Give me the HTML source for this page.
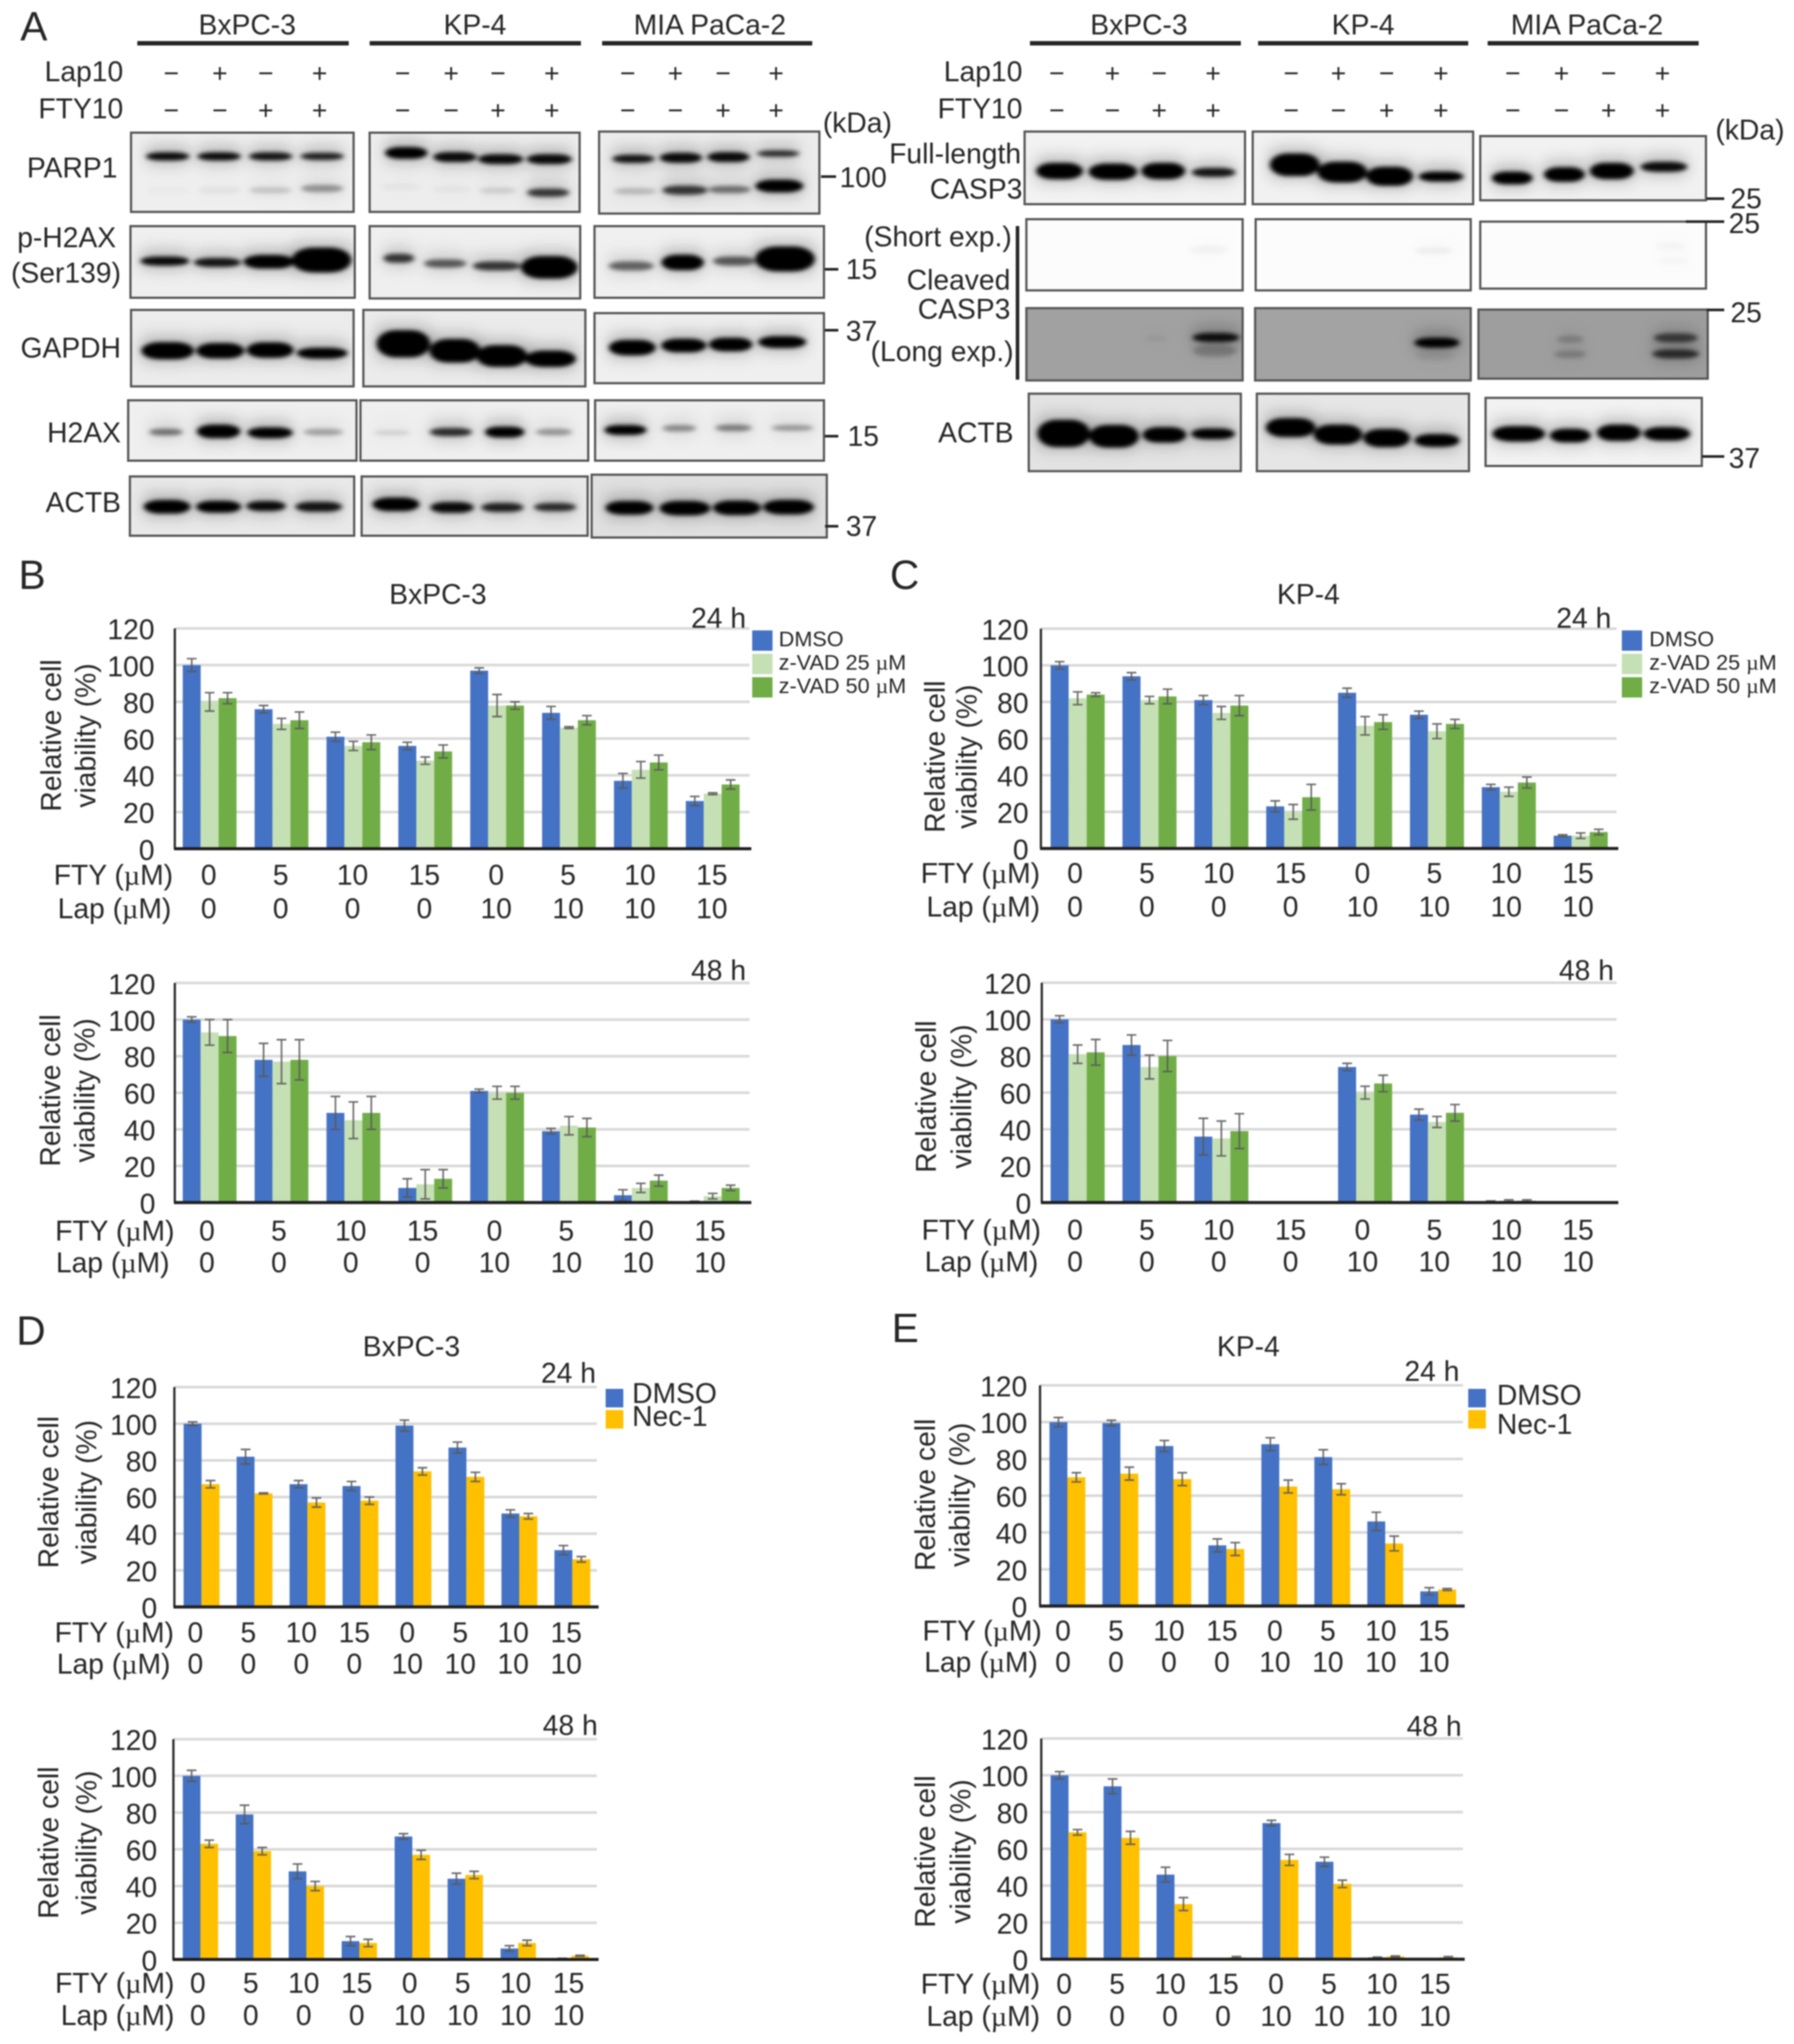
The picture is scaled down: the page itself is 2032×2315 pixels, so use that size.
<!DOCTYPE html>
<html lang="en">
<head>
<meta charset="utf-8">
<title>Western blots and cell viability charts</title>
<style>
html,body{margin:0;padding:0;background:#fff;width:2032px;height:2315px;overflow:hidden}
svg{display:block;filter:blur(.7px)}
text{font-family:"Liberation Sans",Arial,sans-serif;font-size:32px;fill:#262626}
.e{text-anchor:end}.m{text-anchor:middle}.p{font-size:46px}.k{font-size:32px}
.u{font-family:"Liberation Serif",serif}
</style>
</head>
<body>
<svg id="figure" xmlns="http://www.w3.org/2000/svg" width="2032" height="2315" viewBox="0 0 2032 2315">
<defs>
<filter id="bandBlur" x="-25%" y="-60%" width="150%" height="220%"><feGaussianBlur stdDeviation="4.5 6"/></filter>
<filter id="haloBlur" x="-30%" y="-60%" width="160%" height="220%"><feGaussianBlur stdDeviation="12 22"/></filter>
</defs>
<rect width="2032" height="2315" fill="#fff"/>
<g id="blotsLeft" transform="scale(0.6481 0.3953)"></g>
<g id="blotsRight" transform="translate(980 0) scale(0.6711 0.3953)"></g>
<g id="blotLines" stroke="#262626" fill="none">
<path d="M155.5 49H395" stroke-width="5"/>
<path d="M418.7 49H658" stroke-width="5"/>
<path d="M682 49H920" stroke-width="5"/>
<path d="M1166.6 49H1405.5" stroke-width="5"/>
<path d="M1425 49H1663" stroke-width="5"/>
<path d="M1685 49H1924" stroke-width="5"/>
<path d="M1152.5 256V430" stroke-width="4"/>
<path d="M930 200H947" stroke-width="3"/>
<path d="M934.5 305H949.5" stroke-width="3"/>
<path d="M934.5 374H949.5" stroke-width="3"/>
<path d="M934.5 494H949.5" stroke-width="3"/>
<path d="M934.5 596H949.5" stroke-width="3"/>
<path d="M1933 225H1953" stroke-width="3"/>
<path d="M1909.5 251H1953" stroke-width="3"/>
<path d="M1933 351H1953" stroke-width="3"/>
<path d="M1928 517H1953" stroke-width="3"/>
</g>
<g id="blotText">
<text class="p" x="23" y="46">A</text>
<text class="m" x="280" y="39">BxPC-3</text>
<text class="m" x="538" y="39">KP-4</text>
<text class="m" x="804" y="39">MIA PaCa-2</text>
<text class="m" x="1290" y="39">BxPC-3</text>
<text class="m" x="1544" y="39">KP-4</text>
<text class="m" x="1797.5" y="39">MIA PaCa-2</text>
<text class="e" x="139.5" y="92">Lap10</text>
<text class="e" x="139.5" y="134">FTY10</text>
<text class="e" x="1158" y="92">Lap10</text>
<text class="e" x="1158" y="134">FTY10</text>
<text x="932" y="150">(kDa)</text>
<text x="1943" y="158">(kDa)</text>
<text class="e" x="133" y="201">PARP1</text>
<text class="e" x="131.5" y="280">p-H2AX</text>
<text class="e" x="137" y="320">(Ser139)</text>
<text class="e" x="137" y="405">GAPDH</text>
<text class="e" x="137" y="501">H2AX</text>
<text class="e" x="137" y="580">ACTB</text>
<text x="951" y="212">100</text>
<text x="958" y="316">15</text>
<text x="958" y="386">37</text>
<text x="960" y="505">15</text>
<text x="958" y="607">37</text>
<text class="e" x="1156.5" y="185">Full-length</text>
<text class="e" x="1158" y="225">CASP3</text>
<text class="e" x="1146" y="279">(Short exp.)</text>
<text class="e" x="1144.4" y="328">Cleaved</text>
<text class="e" x="1144.4" y="361">CASP3</text>
<text class="e" x="1148" y="409">(Long exp.)</text>
<text class="e" x="1148" y="501">ACTB</text>
<text x="1960" y="236">25</text>
<text x="1958" y="264">25</text>
<text x="1960" y="365">25</text>
<text x="1958" y="530">37</text>
<text class="p" x="21" y="667">B</text>
<text class="p" x="1008" y="667">C</text>
<text class="p" x="18.5" y="1523">D</text>
<text class="p" x="1010" y="1520">E</text>
<text class="m" x="496" y="684">BxPC-3</text>
<text class="m" x="1482" y="684">KP-4</text>
<text class="m" x="466" y="1536">BxPC-3</text>
<text class="m" x="1414" y="1536">KP-4</text>
</g>
<g id="charts"></g>
</svg>
<script>
/* Shared chart categories */
const ftyLabels = ['0','5','10','15','0','5','10','15'];
const lapLabels = ['0','0','0','0','10','10','10','10'];
const yTickLabels = [0,20,40,60,80,100,120];

/* Panel B: BxPC-3, z-VAD */
const b24Dmso = [100,76,61,56,97,74,37,26];
const b24Dmso_err = [3.5,2,2.5,2,1.5,3.5,4,2.5];
const b24Z25 = [80,68,56,48,78,66,43,30];
const b24Z25_err = [5,3,2.5,2,6,0.5,4.5,0.5];
const b24Z50 = [82,70,58,53,78,70,47,35];
const b24Z50_err = [3,4.5,4,3.5,2,2.5,4,2.5];
const b48Dmso = [100,78,49,8,61,39,4,0.5];
const b48Dmso_err = [1.5,9,9,5,1,1.5,3,0.3];
const b48Z25 = [93,77,45,10,60,42,8,3.5];
const b48Z25_err = [7,12,10,8,3.5,5,2.5,1.5];
const b48Z50 = [91,78,49,13,60,41,12,8];
const b48Z50_err = [9,11,9,5,3.5,5,3,1.5];

/* Panel C: KP-4, z-VAD */
const c24Dmso = [100,94,81,23,85,73,33.5,7];
const c24Dmso_err = [2,2,2.5,3,2.5,2,1.5,0.5];
const c24Z25 = [82,81,74,20,67,64,31,7];
const c24Z25_err = [3.5,2,3.5,4,5,4,2.5,1.5];
const c24Z50 = [84,83,78,28,69,68,36,9];
const c24Z50_err = [1,4,5.5,7,4,2.5,3,1.5];
const c48Dmso = [100,86,36,0,74,48,0.7,0];
const c48Dmso_err = [2,5.5,10,0,2,3,0.2,0];
const c48Z25 = [81,74,35,0,60,44,1,0];
const c48Z25_err = [5,6.5,9.5,0,3.5,3,0.5,0];
const c48Z50 = [82,80,39,0,65,49,1,0];
const c48Z50_err = [7,8.5,9.5,0,4.5,4.5,0.5,0];

/* Panel D: BxPC-3, Nec-1 */
const d24Dmso = [100,82,67,66,99,87,51,31];
const d24Dmso_err = [1,4,2,2.5,3,3,2,2.5];
const d24Nec = [67,62,57,58,74,71,49.5,26];
const d24Nec_err = [2,0.3,2.5,2,2,2.5,1.5,1.5];
const d48Dmso = [100,79,48,10,67,44,6,0.5];
const d48Dmso_err = [3,5,4,2.5,1.5,3,1.5,0.2];
const d48Nec = [63,59,40,9,57,46,9,2];
const d48Nec_err = [2,2,2.5,2,2.5,2,1.5,0.3];

/* Panel E: KP-4, Nec-1 */
const e24Dmso = [100,99.5,87,33,88,81,46,8];
const e24Dmso_err = [2.5,1.5,3,3.5,3.5,4,5,2];
const e24Nec = [70,72,69,31,65,63.5,34,9];
const e24Nec_err = [2.5,3.5,3.5,3.5,3.5,3,4,0.5];
const e48Dmso = [100,94,46,0,74,53,1,0];
const e48Dmso_err = [2,4,4,0,1.5,2.5,0.2,0];
const e48Nec = [69,66,30,1,54,41,1.5,1];
const e48Nec_err = [1.5,3.5,3.5,0.5,3,2,0.3,0.5];

const NS = 'http://www.w3.org/2000/svg';
const BLUE = '#4472c4', LIGHT = '#c5e0b4', GREEN = '#70ad47', GOLD = '#ffc000';

function mk(tag, parent, attrs, txt) {
  const el = document.createElementNS(NS, tag);
  for (const k in attrs) el.setAttribute(k, attrs[k]);
  if (txt !== undefined) el.textContent = txt;
  parent.appendChild(el);
  return el;
}
function withMicro(el, before, after) {
  el.textContent = before;
  const t = document.createElementNS(NS, 'tspan');
  t.setAttribute('class', 'u');
  t.textContent = '\u00b5';
  el.appendChild(t);
  el.appendChild(document.createTextNode(after));
}

const zVadSeries = (a, ae, b, be, c, ce) => [
  {name: 'dmso', color: BLUE, v: a, e: ae},
  {name: 'zvad25', color: LIGHT, v: b, e: be},
  {name: 'zvad50', color: GREEN, v: c, e: ce}
];
const necSeries = (a, ae, b, be) => [
  {name: 'dmso', color: BLUE, v: a, e: ae},
  {name: 'nec1', color: GOLD, v: b, e: be}
];

const chartConfigs = [
  {id:'b-24h', time:'24 h', timeX:845, timeY:711, axisX:198, right:849, y120:711.7, y0:961.3, x0:207, barW:20.3, pitch:81.4, tickR:175, relX:69, viaX:108, labelY:833, ftyY:1002, lapY:1040, ftyR:196, lapR:194, lblDx:-1, series:zVadSeries(b24Dmso,b24Dmso_err,b24Z25,b24Z25_err,b24Z50,b24Z50_err)},
  {id:'b-48h', time:'48 h', timeX:845, timeY:1110, axisX:198, right:849, y120:1113.3, y0:1362, x0:207, barW:20.3, pitch:81.4, tickR:176, relX:68, viaX:107, labelY:1235, ftyY:1405, lapY:1441, ftyR:197.6, lapR:192, lblDx:-3, series:zVadSeries(b48Dmso,b48Dmso_err,b48Z25,b48Z25_err,b48Z50,b48Z50_err)},
  {id:'c-24h', time:'24 h', timeX:1825, timeY:711, axisX:1179, right:1831, y120:712, y0:961, x0:1190, barW:20.4, pitch:81.4, tickR:1165, relX:1070, viaX:1106, labelY:857, ftyY:1000, lapY:1038, ftyR:1178, lapR:1178, lblDx:-3, series:zVadSeries(c24Dmso,c24Dmso_err,c24Z25,c24Z25_err,c24Z50,c24Z50_err)},
  {id:'c-48h', time:'48 h', timeX:1828, timeY:1110, axisX:1180, right:1831, y120:1113, y0:1362, x0:1190, barW:20.4, pitch:81.4, tickR:1168, relX:1060, viaX:1100, labelY:1242, ftyY:1404, lapY:1440, ftyR:1179, lapR:1176, lblDx:-3, series:zVadSeries(c48Dmso,c48Dmso_err,c48Z25,c48Z25_err,c48Z50,c48Z50_err)},
  {id:'d-24h', time:'24 h', timeX:675, timeY:1566, axisX:197.5, right:676, y120:1571, y0:1820, x0:208, barW:20.3, pitch:60, tickR:178, relX:66, viaX:109, labelY:1690, ftyY:1860, lapY:1895.5, ftyR:197, lapR:193, lblDx:-7, series:necSeries(d24Dmso,d24Dmso_err,d24Nec,d24Nec_err)},
  {id:'d-48h', time:'48 h', timeX:677, timeY:1965, axisX:196.4, right:676, y120:1969.7, y0:2219.3, x0:207, barW:20, pitch:60, tickR:178, relX:66, viaX:109, labelY:2087, ftyY:2257, lapY:2293.5, ftyR:197.5, lapR:197.5, lblDx:-3, series:necSeries(d48Dmso,d48Dmso_err,d48Nec,d48Nec_err)},
  {id:'e-24h', time:'24 h', timeX:1653, timeY:1564, axisX:1178, right:1657, y120:1569, y0:1819, x0:1188.7, barW:20.3, pitch:60, tickR:1163.5, relX:1059, viaX:1098, labelY:1693, ftyY:1858, lapY:1893.5, ftyR:1180, lapR:1175.5, lblDx:-5, series:necSeries(e24Dmso,e24Dmso_err,e24Nec,e24Nec_err)},
  {id:'e-48h', time:'48 h', timeX:1655.5, timeY:1966, axisX:1179.4, right:1657, y120:1969, y0:2219, x0:1190, barW:20.3, pitch:60, tickR:1164.5, relX:1059, viaX:1099, labelY:2097, ftyY:2258, lapY:2294.5, ftyR:1178, lapR:1178, lblDx:-5, series:necSeries(e48Dmso,e48Dmso_err,e48Nec,e48Nec_err)}
];

function drawChart(c) {
  const root = document.getElementById('charts');
  const g = mk('g', root, {});
  
  
  const yScale = v => c.y0 - (v / 120) * (c.y0 - c.y120);
  const groupX = i => c.x0 + i * c.pitch;
  const barX = (i, s) => groupX(i) + s * c.barW;
  const groupCenter = i => groupX(i) + c.series.length * c.barW / 2;

  yTickLabels.forEach(t => {
    if (t > 0) {
      const gl = mk('line', g, {x1: c.axisX, x2: c.right, y1: yScale(t), y2: yScale(t), stroke: '#d9d9d9', 'stroke-width': 3});
      
      
    }
    const tl = mk('text', g, {x: c.tickR, y: yScale(t) + 12.5, 'class': 'e k'}, String(t));
    
    
  });

  c.series.forEach((s, si) => {
    s.v.forEach((val, i) => {
      if (val <= 0) return;
      const r = mk('rect', g, {x: barX(i, si), y: yScale(val), width: c.barW, height: c.y0 - yScale(val), fill: s.color});
      
      
    });
  });
  c.series.forEach((s, si) => {
    s.v.forEach((val, i) => {
      if (val <= 0) return;
      const cx = barX(i, si) + c.barW / 2;
      const top = yScale(val + s.e[i]);
      const bot = yScale(val - s.e[i]);
      const d = 'M' + cx + ' ' + top + 'V' + bot + 'M' + (cx - 5.5) + ' ' + top + 'H' + (cx + 5.5) + 'M' + (cx - 5.5) + ' ' + bot + 'H' + (cx + 5.5);
      const w = mk('path', g, {d: d, stroke: '#595959', 'stroke-width': 1.8, fill: 'none', 'stroke-opacity': .9});
      
      
    });
  });

  const ax = mk('line', g, {x1: c.axisX, x2: c.axisX, y1: c.y120, y2: c.y0, stroke: '#262626', 'stroke-width': 2.5});
  
  
  const bx = mk('line', g, {x1: c.axisX - 1, x2: c.right + 2, y1: c.y0, y2: c.y0, stroke: '#1f1f1f', 'stroke-width': 3.5});
  
  

  const time = mk('text', g, {x: c.timeX, y: c.timeY, 'class': 'e'}, c.time);
  
  

  const rel = mk('text', g, {x: c.relX, y: c.labelY, 'class': 'm', transform: 'rotate(-90 ' + c.relX + ' ' + c.labelY + ')'}, 'Relative cell');
  
  
  const via = mk('text', g, {x: c.viaX, y: c.labelY, 'class': 'm', transform: 'rotate(-90 ' + c.viaX + ' ' + c.labelY + ')'}, 'viability (%)');
  
  

  const fl = mk('text', g, {x: c.ftyR, y: c.ftyY, 'class': 'e'});
  withMicro(fl, 'FTY (', 'M)');
  
  
  const ll = mk('text', g, {x: c.lapR, y: c.lapY, 'class': 'e'});
  withMicro(ll, 'Lap (', 'M)');
  
  

  ftyLabels.forEach((t, i) => {
    const el = mk('text', g, {x: groupCenter(i) + c.lblDx, y: c.ftyY, 'class': 'm'}, t);
    
    
  });
  lapLabels.forEach((t, i) => {
    const el = mk('text', g, {x: groupCenter(i) + c.lblDx, y: c.lapY, 'class': 'm'}, t);
    
    
  });
}
chartConfigs.forEach(drawChart);

/* Legends */
const legendZ = ['DMSO', 'z-VAD 25 ', 'z-VAD 50 '];
const legendZColors = [BLUE, LIGHT, GREEN];
const legendN = ['DMSO', 'Nec-1'];
const legendNColors = [BLUE, GOLD];
function drawLegendZ(x, textX) {
  const g = mk('g', document.getElementById('charts'), {});
  
  
  legendZ.forEach((t, i) => {
    const top = 714 + i * 26.5;
    const sw = mk('rect', g, {x: x, y: top, width: 23, height: 23, fill: legendZColors[i]});
    
    
    const tx = mk('text', g, {x: textX, y: top + 18, style: 'font-size:24.5px'}, t);
    if (i > 0) withMicro(tx, t, 'M');
    
    
  });
}
function drawLegendN(x, textX, y1, y2) {
  const g = mk('g', document.getElementById('charts'), {});
  
  
  legendN.forEach((t, i) => {
    const top = 1573 + i * 24;
    const sw = mk('rect', g, {x: x, y: top, width: 20, height: 21, fill: legendNColors[i]});
    
    
    const tx = mk('text', g, {x: textX, y: i ? y2 : y1}, t);
    
    
  });
}
drawLegendZ(852, 882);
drawLegendZ(1837, 1868);
drawLegendN(686, 716, 1589, 1615);
drawLegendN(1663, 1695.5, 1591, 1624);

/* Treatment sign rows */
const lapSigns = ['\u2212','+','\u2212','+'];
const ftySigns = ['\u2212','\u2212','+','+'];
const signColumns = [194,249,301,362,456,511,564,625,711,765,819,879,1197,1260,1313,1374,1462.5,1516,1570.6,1632,1713.5,1768.6,1822,1883];
signColumns.forEach((x, i) => {
  const a = mk('text', document.getElementById('blotText'), {x: x, y: 93, 'class': 'm', style: 'font-size:30px'}, lapSigns[i % 4]);
  
  
  const b = mk('text', document.getElementById('blotText'), {x: x, y: 135, 'class': 'm', style: 'font-size:30px'}, ftySigns[i % 4]);
  
  
});

/* Blot panels: x1,y1,x2,y2,background, then bands [cx,cy,w,h,alpha] */
const blotsLeft = [
 ['parp1-bxpc3',229,380,618,607,'#efefef',[[293,448,72,18,.95],[383,448,72,18,.95],[473,448,72,18,.9],[563,448,72,16,.85],[293,545,70,14,.02],[383,545,70,14,.05],[473,545,70,14,.16],[563,540,70,16,.36]]],
 ['parp1-kp4',646,380,1013,607,'#ededed',[[710,438,70,26,1],[795,450,72,22,.95],[875,456,75,22,.95],[960,456,75,22,.95],[700,535,60,14,.04],[790,542,60,14,.04],[870,546,60,14,.12],[958,552,70,18,.75]]],
 ['parp1-mia',1047,377,1432,612,'#ececec',[[1107,455,70,18,.9],[1190,452,70,22,.95],[1273,450,70,22,.95],[1360,440,70,14,.8],[1110,548,70,14,.2],[1197,545,75,20,.75],[1275,543,70,16,.5],[1362,533,80,28,1]]],
 ['ph2ax-bxpc3',228,648,620,853,'#efefef',[[288,748,82,20,.95],[380,752,78,20,.9],[470,750,85,30,1],[562,745,100,55,1]]],
 ['ph2ax-kp4',646,648,1014,855,'#efefef',[[697,740,50,20,.75],[778,755,70,18,.6],[868,762,80,20,.75],[960,766,95,50,1]]],
 ['ph2ax-mia',1039,648,1440,853,'#f0f0f0',[[1103,762,75,20,.55],[1193,752,70,34,1],[1283,748,70,20,.6],[1372,742,100,55,1]]],
 ['gapdh-bxpc3',229,888,618,1107,'#ececec',[[293,1005,88,38,1],[385,1005,80,34,1],[472,1003,78,34,1],[563,1012,85,24,1]]],
 ['gapdh-kp4',635,888,1023,1107,'#ebebeb',[[705,985,90,60,1],[795,1005,85,52,1],[877,1020,85,48,1],[962,1028,85,36,1]]],
 ['gapdh-mia',1039,897,1440,1098,'#efefef',[[1105,996,78,34,1],[1195,990,75,30,1],[1277,987,72,30,1],[1367,980,80,26,1]]],
 ['h2ax-bxpc3',224,1147,623,1320,'#efefef',[[290,1238,55,14,.5],[382,1236,72,30,1],[472,1240,75,24,1],[565,1238,65,14,.3]]],
 ['h2ax-kp4',630,1147,1028,1320,'#efefef',[[685,1240,60,10,.12],[788,1238,70,18,.8],[882,1238,65,24,1],[968,1238,60,14,.35]]],
 ['h2ax-mia',1040,1147,1440,1320,'#efefef',[[1093,1232,70,22,1],[1187,1227,55,14,.4],[1282,1226,60,14,.45],[1385,1226,70,12,.35]]],
 ['actb-bxpc3',227,1365,619,1535,'#e9e9e9',[[292,1452,78,30,1],[382,1452,75,26,1],[465,1450,65,22,.95],[557,1452,78,22,.9]]],
 ['actb-kp4',632,1365,1027,1535,'#e9e9e9',[[692,1445,78,30,1],[790,1454,72,24,.95],[878,1454,70,20,.85],[970,1453,70,18,.8]]],
 ['actb-mia',1034,1360,1445,1540,'#e0e0e0',[[1100,1455,80,30,1],[1197,1456,85,32,1],[1288,1455,80,32,1],[1378,1453,85,32,1]]]
];
const blotsRight = [
 ['casp3-full-bxpc3',269,377,641,585,'#f2f2f2',[[328,490,75,36,1],[418,492,78,36,1],[503,490,70,36,1],[588,494,70,20,.9]]],
 ['casp3-full-kp4',654,377,1026,585,'#f1f1f1',[[725,472,80,50,1],[805,493,80,46,1],[885,505,75,42,1],[972,506,72,22,1]]],
 ['casp3-full-mia',1038,390,1419,574,'#f1f1f1',[[1092,510,65,28,1],[1180,500,65,32,1],[1260,490,70,36,1],[1348,478,75,22,.95]]],
 ['casp3-short-bxpc3',272,628,637,832,'#fcfcfc',[[580,716,60,20,.03]]],
 ['casp3-short-kp4',659,628,1022,832,'#fcfcfc',[[960,718,60,14,.05]]],
 ['casp3-short-mia',1038,635,1419,827,'#fcfcfc',[[1360,705,50,16,.025],[1365,748,50,12,.025]]],
 ['casp3-long-bxpc3',272,883,637,1090,'#a1a1a1',[[592,967,75,20,.9],[590,1005,70,25,.2],[490,970,30,15,.05]]],
 ['casp3-long-kp4',658,883,1022,1090,'#a3a3a3',[[965,982,72,22,1],[960,1020,60,20,.05]]],
 ['casp3-long-mia',1035,887,1422,1085,'#9e9e9e',[[1190,972,40,16,.18],[1190,1015,50,16,.2],[1368,968,70,20,.6],[1368,1014,75,20,.7]]],
 ['actb2-bxpc3',276,1128,634,1350,'#e3e3e3',[[335,1242,85,60,1],[420,1250,80,50,1],[505,1246,70,34,1],[587,1243,70,24,1]]],
 ['actb2-kp4',661,1128,1019,1350,'#e6e6e6',[[718,1225,80,42,1],[798,1245,78,44,1],[880,1255,75,40,1],[965,1262,72,28,1]]],
 ['actb2-mia',1047,1140,1412,1335,'#f2f2f2',[[1103,1243,85,34,1],[1190,1248,65,30,1],[1272,1240,70,36,1],[1353,1243,75,30,1]]]
];
function drawBlots(list, parentId) {
  const parent = document.getElementById(parentId);
  list.forEach(p => {
    const g = mk('g', parent, {});
    
    
    const cp = mk('clipPath', g, {id: 'clip-' + p[0]});
    mk('rect', cp, {x: p[1], y: p[2], width: p[3] - p[1], height: p[4] - p[2]});
    const bg = mk('rect', g, {x: p[1], y: p[2], width: p[3] - p[1], height: p[4] - p[2], fill: p[5]});
    
    
    const clip = mk('g', g, {'clip-path': 'url(#clip-' + p[0] + ')'});
    const halos = mk('g', clip, {filter: 'url(#haloBlur)'});
    const core = mk('g', clip, {filter: 'url(#bandBlur)'});
    p[6].forEach(b => {
      mk('rect', halos, {x: b[0] - b[2] / 2 - 4, y: b[1] - b[3] / 2 - 22, width: b[2] + 8, height: b[3] + 36, rx: 20, ry: 20, fill: '#000', 'fill-opacity': b[4] * .24});
      const h = b[3] * 1.3;
      const band = mk('rect', core, {x: b[0] - b[2] / 2 - 2, y: b[1] - h / 2, width: b[2] + 4, height: h, rx: b[2] * .38, ry: h / 2, fill: '#000', 'fill-opacity': b[4]});
      
      
    });
    const fr = mk('rect', g, {x: p[1], y: p[2], width: p[3] - p[1], height: p[4] - p[2], fill: 'none', stroke: '#555', 'stroke-width': 2.5, 'vector-effect': 'non-scaling-stroke'});
    
    
  });
}
drawBlots(blotsLeft, 'blotsLeft');
drawBlots(blotsRight, 'blotsRight');
</script>
</body>
</html>
